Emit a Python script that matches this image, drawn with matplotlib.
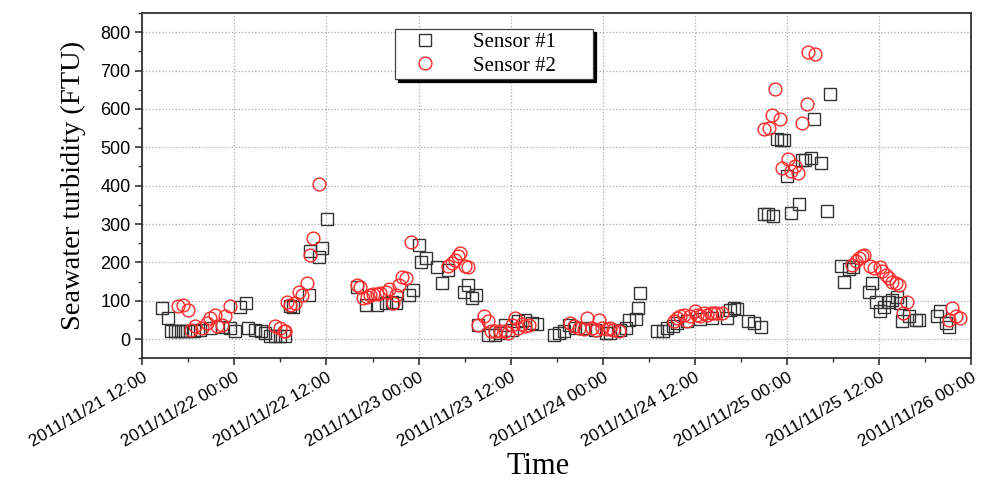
import numpy as np
import matplotlib
matplotlib.use("Agg")
import matplotlib.pyplot as plt
import matplotlib.dates as mdates
from matplotlib.ticker import MultipleLocator

# hours after 2011/11/21 12:00, turbidity in FTU
s1_hours = [2.5, 3.4, 3.8, 4.3, 4.7, 5.1, 5.6, 6.2, 6.7, 7.5, 8.8, 10.4, 11.4, 12.1,
            12.7, 13.5, 13.8, 14.7, 15.4, 16.0, 16.7, 17.3, 18.0, 18.6,
            19.3, 19.7, 21.7, 21.9, 23.0, 23.4, 24.1,
            28.0, 29.1, 30.6, 31.7, 32.5, 33.0, 34.7, 35.3, 36.0, 37.0, 36.3,
            38.4, 39.1, 39.9, 41.9, 42.5, 43.0, 43.5,
            43.8, 45.1, 46.0, 46.6, 47.3, 48.2, 49.0, 49.9, 50.8, 51.4,
            53.6, 54.3, 54.9, 55.6, 56.4, 57.7, 59.0, 60.4, 61.0, 62.3, 63.0,
            63.4, 64.3, 64.6, 64.9,
            67.1, 67.8, 68.4, 69.1, 69.7, 71.0, 72.7, 74.3, 76.2, 76.6, 77.1,
            77.5, 79.0, 79.7, 80.6,
            81.0, 81.6, 82.2, 82.7, 83.2, 83.6, 84.0, 84.5, 85.6, 86.0, 86.4,
            87.1, 87.6, 88.4, 89.2, 89.6,
            91.1, 91.5, 92.1, 92.6, 94.7, 95.1, 95.6, 96.2, 96.6, 97.3, 97.7,
            98.4, 98.8, 99.0, 99.9, 100.8, 101.2,
            103.6, 104.0, 104.7, 105.1]
s1_ftu = [82, 55, 22, 20, 20, 20, 21, 20, 22, 24, 30, 32, 30, 20,
          85, 95, 29, 24, 20, 16, 9, 7, 7, 7,
          87, 85, 116, 229, 214, 238, 313,
          137, 90, 90, 95, 98, 94, 116, 129, 246, 211, 200,
          187, 146, 181, 124, 142, 107, 116,
          37, 11, 11, 16, 37, 25, 46, 50, 42, 40,
          11, 16, 20, 37, 30, 28, 25, 16, 16, 24, 29,
          50, 52, 81, 120,
          20, 20, 29, 33, 42, 48, 52, 55, 55, 77, 81,
          78, 46, 42, 31,
          325, 325, 322, 522, 519, 520, 425, 329, 353, 468, 468,
          473, 574, 458, 333, 638,
          190, 148, 183, 188, 124, 146, 98, 72, 85, 98, 103,
          111, 94, 46, 59, 50, 50,
          59, 72, 43, 31]

s2_hours = [4.7, 5.3, 6.0, 6.4, 6.9, 7.8, 8.4, 8.8, 9.5, 9.7, 10.4, 10.8, 11.4,
            17.3, 18.0, 18.4, 18.6,
            18.8, 19.3, 19.9, 20.4, 20.8, 21.4, 21.9, 22.3, 23.0,
            28.0, 28.4, 28.8, 29.3, 29.7, 30.1, 30.6, 31.0, 31.7, 32.1, 32.7,
            33.0, 33.4, 33.8, 34.4, 35.0,
            39.9, 40.4, 40.8, 41.2, 41.4, 42.1, 42.5,
            43.8, 44.5, 45.0, 45.4, 46.0, 46.6, 47.3, 47.7, 48.2, 48.6, 49.0,
            49.5, 49.9, 50.4,
            55.8, 56.2, 56.9, 57.5, 58.0, 58.6, 59.1, 59.5, 59.9, 60.6, 61.0,
            61.4, 62.1,
            69.3, 69.7, 70.1, 70.6, 71.0, 71.4, 72.0, 72.3, 72.7, 73.2, 73.6,
            74.1, 74.5, 74.9, 75.6,
            81.0, 81.7, 82.1, 82.5, 83.1, 83.4, 84.1, 84.5, 85.0, 85.4, 86.0,
            86.6, 86.8, 87.7,
            92.5, 93.0, 93.4, 93.8, 94.0, 94.9, 95.4, 96.1, 96.4, 96.9, 97.3,
            97.7, 98.2, 98.6, 99.6, 99.2,
            105.1, 105.5, 106.0, 106.6]
s2_ftu = [87, 90, 75, 24, 33, 29, 42, 55, 63, 33, 37, 59, 87,
          33, 29, 22, 20,
          98, 90, 94, 124, 116, 146, 220, 264, 403,
          142, 136, 107, 111, 116, 118, 118, 120, 124, 131, 94,
          116, 142, 163, 159, 252,
          190, 198, 207, 217, 224, 190, 188,
          37, 59, 46, 20, 20, 20, 20, 16, 37, 55, 29,
          40, 33, 37,
          42, 33, 29, 26, 55, 29, 24, 49, 29, 26, 29,
          24, 20,
          46, 55, 59, 63, 46, 59, 72, 63, 59, 68, 63,
          68, 68, 68, 68,
          547, 551, 583, 653, 574, 446, 470, 438, 451, 433, 562,
          612, 748, 742,
          194, 203, 211, 217, 220, 190, 185, 188, 177, 168, 159,
          150, 146, 142, 98, 69,
          50, 81, 61, 55]

start = np.datetime64("2011-11-21T12:00")
end = np.datetime64("2011-11-26T00:00")


def to_time(hours):
    return start + (np.array(hours) * 60).round().astype("timedelta64[m]")


plt.rcParams["font.family"] = ["Liberation Sans", "DejaVu Sans"]

fig = plt.figure(figsize=(9.83, 4.94), dpi=100)
ax = fig.add_axes([0.1448, 0.2747, 0.8430, 0.6990])

ax.plot(to_time(s1_hours), s1_ftu, ls="none", marker="s", ms=8.8, mfc="none",
        mec="#333333", mew=1.0, label="Sensor #1")
ax.plot(to_time(s2_hours), s2_ftu, ls="none", marker="o", ms=9.2, mfc="none",
        mec="#ff2a2a", mew=1.0, label="Sensor #2")

ax.set_xlim(start, end)
ax.set_ylim(-50, 850)
ax.yaxis.set_major_locator(MultipleLocator(100))
ax.yaxis.set_minor_locator(MultipleLocator(50))
ax.xaxis.set_major_locator(mdates.HourLocator(byhour=[0, 12]))
ax.xaxis.set_minor_locator(mdates.HourLocator(byhour=[6, 18]))
ax.xaxis.set_major_formatter(mdates.DateFormatter("%Y/%m/%d %H:%M"))

ax.grid(True, which="major", ls=":", color="#aaaaaa", lw=0.9)
for s in ax.spines.values():
    s.set_linewidth(1.3)
    s.set_color("#333333")
ax.tick_params(which="major", direction="out", length=5, width=1.2,
               labelsize=12.5, color="#333333")
ax.tick_params(axis="y", labelsize=13)
ax.tick_params(which="minor", direction="out", length=3, width=1.0,
               color="#333333")
for lab in ax.get_xticklabels():
    lab.set_rotation(30)
    lab.set_ha("right")
    lab.set_va("top")
    lab.set_rotation_mode("anchor")

ax.set_xlabel("Time", family="Liberation Serif", fontsize=22, labelpad=2, x=0.477)
ax.set_ylabel("Seawater turbidity (FTU)", family="Liberation Serif",
              fontsize=20.5, labelpad=10)

leg = ax.legend(loc="upper left", bbox_to_anchor=(0.305, 0.80, 0.2386, 0.153),
                mode="expand",
                prop={"family": "Liberation Serif", "size": 15},
                frameon=True, fancybox=False, handlelength=2.6,
                handletextpad=1.0, borderpad=0.15, labelspacing=0.2,
                borderaxespad=0, shadow={"color": "black", "alpha": 1})
leg.get_frame().set_edgecolor("#444444")
leg.get_frame().set_linewidth(0.9)

fig.savefig("out.png", dpi=100)
